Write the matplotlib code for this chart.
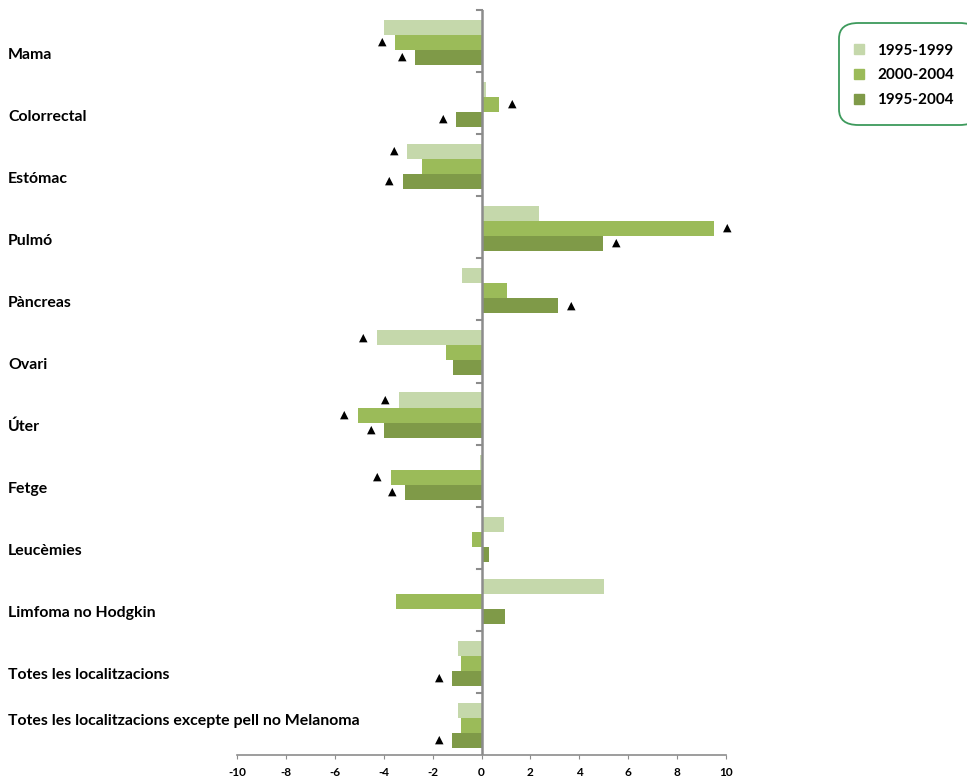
import numpy as np
import matplotlib.pyplot as plt
from matplotlib.patches import FancyBboxPatch
from matplotlib.lines import Line2D

plt.rcParams['font.family'] = ['Lato', 'DejaVu Sans']
plt.rcParams['axes.unicode_minus'] = False

# localitzacions i percentatges de canvi anual
locs = ['Mama', 'Colorrectal', 'Estómac', 'Pulmó', 'Pàncreas', 'Ovari', 'Úter',
        'Fetge', 'Leucèmies', 'Limfoma no Hodgkin', 'Totes les localitzacions',
        'Totes les localitzacions excepte pell no Melanoma']
series = ['1995-1999', '2000-2004', '1995-2004']
v1 = [-4.0, 0.2, -3.03, 2.37, -0.78, -4.29, -3.39, -0.08, 0.94, 5.03, -0.98, -0.98]
v2 = [-3.52, 0.7, -2.45, 9.49, 1.06, -1.47, -5.07, -3.72, -0.37, -3.48, -0.85, -0.82]
v3 = [-2.7, -1.03, -3.23, 4.95, 3.11, -1.15, -3.97, -3.11, 0.29, 0.98, -1.19, -1.19]
# canvi significatiu (triangle)
s1 = [0, 0, 1, 0, 0, 1, 1, 0, 0, 0, 0, 0]
s2 = [1, 1, 0, 1, 0, 0, 1, 1, 0, 0, 0, 0]
s3 = [1, 1, 1, 1, 1, 0, 1, 1, 0, 0, 1, 1]
colors = ['#c5d8ab', '#9bbb59', '#7f9a48']

fig = plt.figure(figsize=(9.67, 7.78), dpi=100)
ax = fig.add_axes([237 / 967, 23 / 778, 489 / 967, 745 / 778])

n = len(locs)
idx = np.arange(n)
h = 0.242
offs = [0.282, 0.524, 0.766]
for vals, sig, c, o in zip([v1, v2, v3], [s1, s2, s3], colors, offs):
    ax.barh(idx + o, vals, height=h, color=c, edgecolor='none', zorder=2)
    for i, (v, s) in enumerate(zip(vals, sig)):
        if s:
            ax.annotate('\u25B2', xy=(v, i + o), xytext=(np.sign(v) * 9.5, 0.5),
                        textcoords='offset points', ha='center', va='center',
                        fontsize=8, family='DejaVu Sans')

ax.set_xlim(-10, 10)
ax.set_ylim(n, 0)
ax.set_xticks(np.arange(-10, 11, 2))
ax.tick_params(axis='x', direction='out', length=3, color='#8c8c8c', labelsize=8.5, pad=6)
for t in ax.get_xticklabels():
    t.set_fontweight('bold')

for sp in ['top', 'right', 'left']:
    ax.spines[sp].set_visible(False)
ax.spines['bottom'].set_color('#8c8c8c')
ax.spines['bottom'].set_linewidth(1.2)
ax.set_yticks([])

# eix vertical a x=0 amb marques entre localitzacions
ax.axvline(0, color='#8c8c8c', lw=1.8, zorder=3)
for b in range(n):
    ax.plot([-0.2, 0], [b, b], color='#8c8c8c', lw=1.5, zorder=3, clip_on=False)

label_y = 54 + 62 * idx.astype(float)
label_y[-1] -= 16
for name, yp in zip(locs, label_y):
    ax.text(8 / 967, 1 - (yp + 1) / 778, name, transform=fig.transFigure,
            ha='left', va='center', fontsize=11.4, fontweight='bold')

# llegenda
box = FancyBboxPatch((839 / 967, 1 - 125 / 778), 140 / 967, 102 / 778,
                     boxstyle='round,pad=0,rounding_size=0.02',
                     transform=fig.transFigure, fc='white', ec='#3d9a5c', lw=1.3)
fig.patches.append(box)
handles = [Line2D([], [], ls='', marker='s', ms=6.5, mfc=c, mec=c) for c in colors]
leg = fig.legend(handles, series, loc='upper left', bbox_to_anchor=(845 / 967, 1 - 36 / 778),
                 frameon=False, fontsize=11, handlelength=0.8, handletextpad=0.8,
                 labelspacing=0.7, borderpad=0)
for t in leg.get_texts():
    t.set_fontweight('bold')

fig.savefig('out.png', dpi=100)
